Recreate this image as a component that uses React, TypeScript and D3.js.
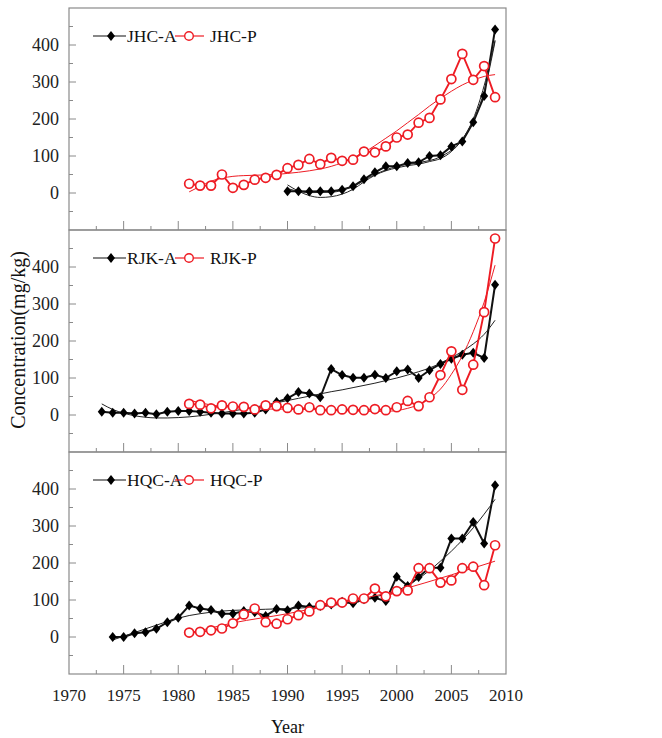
import React from "react";
import * as d3 from "d3";

// ---------- data ----------
const JHC_A_START = 1990;
const JHC_A = [5, 5, 4, 5, 5, 9, 18, 37, 56, 72, 72, 81, 83, 100, 102, 126, 139, 191, 262, 442];
const JHC_P_START = 1981;
const JHC_P = [25, 20, 20, 50, 14, 22, 36, 41, 49, 67, 76, 92, 78, 95, 87, 90, 112, 110, 126, 150, 158, 190, 203, 253, 308, 376, 306, 343, 259];
const JHC_A_TREND1_YEARS = [1990, 1991, 1992, 1993, 1994, 1995, 1996, 1997, 1998, 1999, 2000, 2001, 2002, 2003, 2004, 2005, 2006, 2007, 2008, 2009];
const JHC_A_TREND1 = [22, 5, -7, -12, -10, -3, 10, 30, 48, 60, 68, 74, 78, 85, 93, 112, 145, 200, 290, 413];
const JHC_A_TREND2_YEARS = [1990, 1992, 1994, 1996, 1998, 2000, 2002, 2004, 2006, 2007, 2008, 2009];
const JHC_A_TREND2 = [12, 1, 2, 18, 50, 72, 82, 98, 145, 195, 275, 410];
const JHC_P_TREND_YEARS = [1981, 1982, 1983, 1984, 1985, 1986, 1987, 1988, 1989, 1990, 1991, 1992, 1993, 1994, 1995, 1996, 1997, 1998, 1999, 2000, 2001, 2002, 2003, 2004, 2005, 2006, 2007, 2008, 2009];
const JHC_P_TREND = [3, 18, 32, 40, 45, 47, 48, 49, 50, 53, 56, 60, 65, 72, 82, 95, 110, 128, 148, 168, 190, 212, 235, 256, 275, 292, 305, 315, 320];

const RJK_A_START = 1973;
const RJK_A = [9, 6, 6, 4, 6, 2, 9, 11, 11, 9, 6, 4, 4, 4, 6, 15, 35, 45, 62, 58, 48, 124, 108, 101, 101, 109, 100, 118, 123, 100, 121, 138, 152, 163, 168, 154, 352];
const RJK_P_START = 1981;
const RJK_P = [30, 28, 18, 26, 23, 22, 15, 26, 24, 19, 15, 21, 13, 13, 15, 14, 13, 16, 13, 21, 38, 24, 48, 108, 172, 68, 136, 278, 477];
const RJK_A_TREND_YEARS = [1973, 1974, 1975, 1976, 1977, 1978, 1979, 1980, 1981, 1982, 1983, 1984, 1985, 1986, 1987, 1988, 1989, 1990, 1991, 1992, 1993, 1994, 1995, 1996, 1997, 1998, 1999, 2000, 2001, 2002, 2003, 2004, 2005, 2006, 2007, 2008, 2009];
const RJK_A_TREND = [30, 15, 5, -2, -6, -8, -8, -7, -5, -2, 2, 6, 11, 16, 21, 27, 33, 39, 45, 51, 57, 63, 68, 74, 80, 86, 93, 100, 108, 117, 127, 140, 155, 172, 192, 218, 256];
const RJK_P_TREND_YEARS = [1981, 1982, 1983, 1984, 1985, 1986, 1987, 1988, 1989, 1990, 1991, 1992, 1993, 1994, 1995, 1996, 1997, 1998, 1999, 2000, 2001, 2002, 2003, 2004, 2005, 2006, 2007, 2008, 2009];
const RJK_P_TREND = [40, 33, 27, 23, 20, 18, 17, 16, 16, 16, 15, 15, 14, 13, 12, 11, 10, 10, 10, 12, 18, 28, 45, 70, 110, 160, 225, 305, 405];

const HQC_A_START = 1974;
const HQC_A = [0, 0, 10, 13, 22, 40, 52, 85, 77, 73, 63, 63, 70, 67, 57, 76, 72, 85, 81, 84, 88, 95, 91, 102, 106, 97, 163, 138, 162, 187, 187, 266, 266, 311, 253, 410];
const HQC_P_START = 1981;
const HQC_P = [12, 14, 18, 23, 37, 61, 77, 40, 36, 48, 59, 69, 86, 93, 93, 104, 104, 131, 110, 124, 126, 186, 186, 147, 153, 186, 190, 140, 248];
const HQC_A_TREND_YEARS = [1974, 1975, 1976, 1977, 1978, 1979, 1980, 1981, 1982, 1983, 1984, 1985, 1986, 1987, 1988, 1989, 1990, 1991, 1992, 1993, 1994, 1995, 1996, 1997, 1998, 1999, 2000, 2001, 2002, 2003, 2004, 2005, 2006, 2007, 2008, 2009];
const HQC_A_TREND = [-8, 2, 12, 22, 32, 42, 51, 58, 63, 67, 70, 72, 73, 74, 75, 76, 77, 78, 80, 82, 85, 89, 94, 100, 108, 116, 125, 140, 158, 180, 205, 232, 262, 295, 332, 372];
const HQC_P_TREND_YEARS = [1981, 1985, 1990, 1995, 2000, 2005, 2009];
const HQC_P_TREND = [10, 38, 63, 93, 125, 168, 205];

const X_TICKS = [1970, 1975, 1980, 1985, 1990, 1995, 2000, 2005, 2010];
const Y_TICKS = [0, 100, 200, 300, 400];

// ---------- layout ----------
const W = 662;
const H = 738;
const LEFT = 69;
const RIGHT = 506;
const PANEL_TOPS = [8, 230, 452];
const PANEL_H = 222;
const RED = "#ee1c24";
const AXIS = "#8a8a8a";
const FONT = "'Liberation Serif', 'Times New Roman', serif";

const x = d3.scaleLinear().domain([1970, 2010]).range([LEFT, RIGHT]);

const panels = [
  {
    a: "JHC-A", p: "JHC-P",
    aYears: d3.range(JHC_A_START, JHC_A_START + JHC_A.length), aVals: JHC_A,
    pYears: d3.range(JHC_P_START, JHC_P_START + JHC_P.length), pVals: JHC_P,
    aTrends: [[JHC_A_TREND1_YEARS, JHC_A_TREND1], [JHC_A_TREND2_YEARS, JHC_A_TREND2]],
    pTrends: [[JHC_P_TREND_YEARS, JHC_P_TREND]],
  },
  {
    a: "RJK-A", p: "RJK-P",
    aYears: d3.range(RJK_A_START, RJK_A_START + RJK_A.length), aVals: RJK_A,
    pYears: d3.range(RJK_P_START, RJK_P_START + RJK_P.length), pVals: RJK_P,
    aTrends: [[RJK_A_TREND_YEARS, RJK_A_TREND]],
    pTrends: [[RJK_P_TREND_YEARS, RJK_P_TREND]],
  },
  {
    a: "HQC-A", p: "HQC-P",
    aYears: d3.range(HQC_A_START, HQC_A_START + HQC_A.length), aVals: HQC_A,
    pYears: d3.range(HQC_P_START, HQC_P_START + HQC_P.length), pVals: HQC_P,
    aTrends: [[HQC_A_TREND_YEARS, HQC_A_TREND]],
    pTrends: [[HQC_P_TREND_YEARS, HQC_P_TREND]],
  },
];

const DIAMOND = "M0,-5L4,0L0,5L-4,0Z";

function Panel({ cfg, top, last }: { cfg: any; top: number; last: boolean }) {
  const y = d3.scaleLinear().domain([-100, 500]).range([top + PANEL_H, top]);
  const line = d3.line<[number, number]>().x((d) => x(d[0])).y((d) => y(d[1]));
  const smooth = d3.line<[number, number]>().x((d) => x(d[0])).y((d) => y(d[1])).curve(d3.curveMonotoneX);
  const aPts: [number, number][] = cfg.aYears.map((yr: number, i: number) => [yr, cfg.aVals[i]]);
  const pPts: [number, number][] = cfg.pYears.map((yr: number, i: number) => [yr, cfg.pVals[i]]);
  const yMinor = d3.range(-50, 500, 50);
  const xMinor = d3.range(1972.5, 2010, 2.5);
  const bottom = top + PANEL_H;
  const ly = top + 28;
  return (
    <g>
      <rect x={LEFT} y={top} width={RIGHT - LEFT} height={PANEL_H} fill="none" stroke={AXIS} strokeWidth={1.2} />
      {yMinor.map((v) => (
        <line key={"yt" + v} x1={LEFT} x2={LEFT + (v % 100 === 0 ? 7 : 4)} y1={y(v)} y2={y(v)} stroke={AXIS} strokeWidth={1} />
      ))}
      {xMinor.map((v) => (
        <line key={"xt" + v} x1={x(v)} x2={x(v)} y1={bottom} y2={bottom - (v % 5 === 0 ? 9 : 4)} stroke={AXIS} strokeWidth={1} />
      ))}
      {Y_TICKS.map((v) => (
        <text key={"yl" + v} x={59} y={y(v)} dy="0.35em" textAnchor="end" fontSize={18} fontFamily={FONT} fill="#222">
          {v}
        </text>
      ))}
      {last &&
        X_TICKS.map((v) => (
          <text key={"xl" + v} x={x(v)} y={bottom + 27} textAnchor="middle" fontSize={17} fontFamily={FONT} fill="#222">
            {v}
          </text>
        ))}
      {/* A series */}
      <path d={line(aPts) || ""} fill="none" stroke="#111" strokeWidth={2} />
      {cfg.aTrends.map((t: any, k: number) => (
        <path key={"at" + k} d={smooth(t[0].map((yr: number, i: number) => [yr, t[1][i]])) || ""} fill="none" stroke="#222" strokeWidth={1} />
      ))}
      {aPts.map((d, i) => (
        <path key={"ad" + i} d={DIAMOND} transform={`translate(${x(d[0])},${y(d[1])})`} fill="#000" />
      ))}
      {/* P series */}
      <path d={line(pPts) || ""} fill="none" stroke={RED} strokeWidth={1.9} />
      {cfg.pTrends.map((t: any, k: number) => (
        <path key={"pt" + k} d={smooth(t[0].map((yr: number, i: number) => [yr, t[1][i]])) || ""} fill="none" stroke={RED} strokeWidth={1} />
      ))}
      {pPts.map((d, i) => (
        <circle key={"pc" + i} cx={x(d[0])} cy={y(d[1])} r={4.5} fill="#fff" stroke={RED} strokeWidth={1.7} />
      ))}
      {/* legend */}
      <line x1={93} x2={126} y1={ly} y2={ly} stroke="#111" strokeWidth={1.2} />
      <path d={DIAMOND} transform={`translate(111,${ly})`} fill="#000" />
      <text x={127} y={ly} dy="0.35em" fontSize={17.5} fontFamily={FONT} fill="#111">
        {cfg.a}
      </text>
      <line x1={175} x2={204} y1={ly} y2={ly} stroke={RED} strokeWidth={1.2} />
      <circle cx={189} cy={ly} r={4.3} fill="#fff" stroke={RED} strokeWidth={1.4} />
      <text x={210} y={ly} dy="0.35em" fontSize={17.5} fontFamily={FONT} fill="#111">
        {cfg.p}
      </text>
    </g>
  );
}

export default function App() {
  return (
    <svg width={W} height={H} style={{ position: "absolute", left: 0, top: 0, background: "#fff" }}>
      <rect x={0} y={0} width={W} height={H} fill="#fff" />
      {panels.map((cfg, i) => (
        <Panel key={i} cfg={cfg} top={PANEL_TOPS[i]} last={i === panels.length - 1} />
      ))}
      <text
        transform={`translate(25,340) rotate(-90)`}
        textAnchor="middle"
        fontSize={20}
        fontFamily={FONT}
        fill="#111"
      >
        Concentration(mg/kg)
      </text>
      <text x={(LEFT + RIGHT) / 2} y={733} textAnchor="middle" fontSize={18} fontFamily={FONT} fill="#111">
        Year
      </text>
    </svg>
  );
}
